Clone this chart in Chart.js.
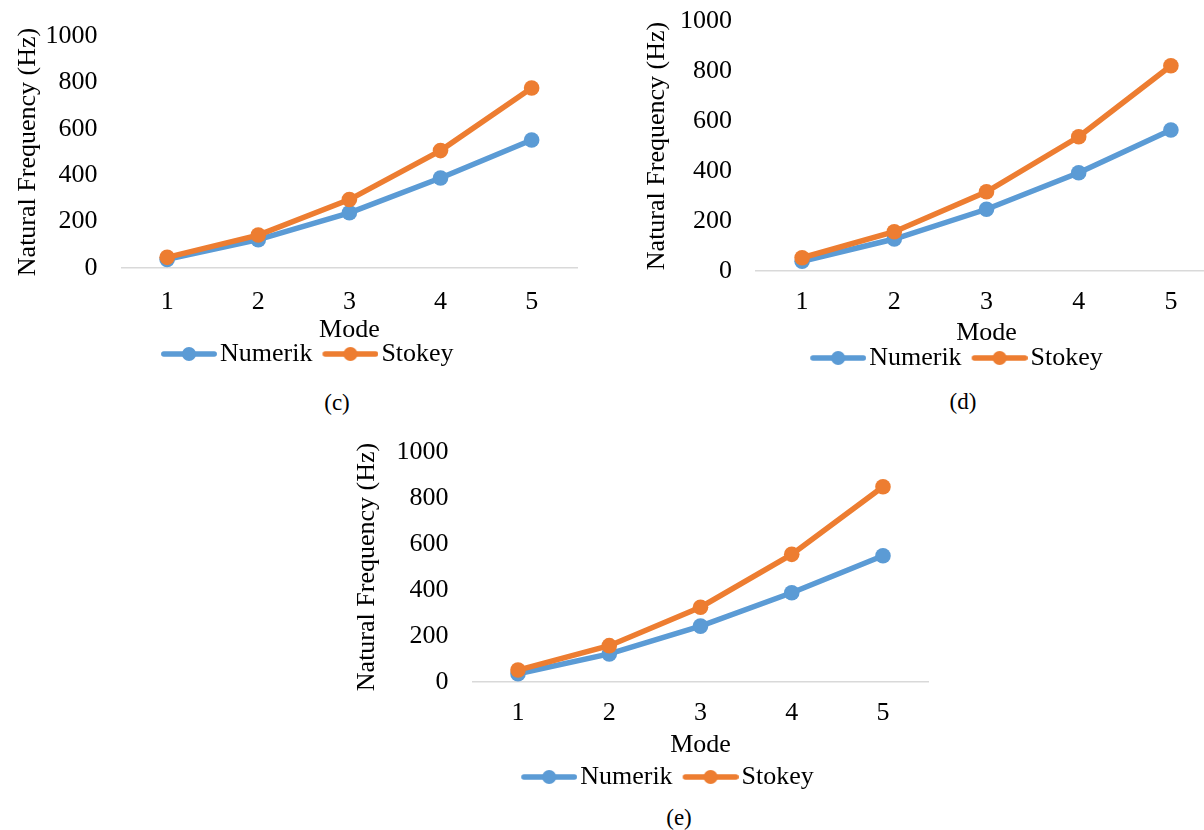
<!DOCTYPE html>
<html>
<head>
<meta charset="utf-8">
<script src="https://cdn.jsdelivr.net/npm/chart.js@4/dist/chart.umd.min.js"></script>
<style>
html,body{margin:0;padding:0;overflow:hidden;background:#fff;width:1204px;height:830px}
canvas{position:absolute}
.cap{position:absolute;width:100px;text-align:center;font-family:"Liberation Serif",serif;font-size:23px;line-height:26px;color:#000}
</style>
</head>
<body>
<canvas id="chartC"></canvas>
<canvas id="chartD"></canvas>
<canvas id="chartE"></canvas>
<div class="cap" id="capC"></div>
<div class="cap" id="capD"></div>
<div class="cap" id="capE"></div>
<script>
// data
const modes=["1","2","3","4","5"];
const seriesNames=["Numerik","Stokey"];
const numerikC=[37,122,238,388,552];
const stokeyC=[46,142,295,506,776];
const numerikD=[39,128,247,393,564];
const stokeyD=[53,157,317,537,821];
const numerikE=[36,122,243,388,549];
const stokeyE=[52,158,325,555,849];
const yMin=0,yMax=1000,yStep=200;
const xTitle="Mode",yTitle="Natural Frequency (Hz)";
const captions=["(c)","(d)","(e)"];

const BLUE="#5B9BD5",ORANGE="#ED7D31",FONT="Liberation Serif";
Chart.defaults.font.family=FONT;
Chart.defaults.color="#000";

function legendImg(color){
const c=document.createElement("canvas");c.width=66;c.height=20;
const g=c.getContext("2d");
g.strokeStyle=color;g.lineWidth=5.5;g.lineCap="round";
g.beginPath();g.moveTo(12.8,10);g.lineTo(63.2,10);g.stroke();
g.fillStyle=color;g.beginPath();g.arc(38,10,7,0,Math.PI*2);g.fill();
return c;
}
const imgs=[legendImg(BLUE),legendImg(ORANGE)];

// box: canvas place and the paddings used to line the plot up
function make(id,num,sto,box){
const cv=document.getElementById(id);
cv.width=box.w;cv.height=box.h;
cv.style.left=box.x+"px";cv.style.top=box.y+"px";
new Chart(cv,{
type:"line",
data:{labels:modes,datasets:[
{label:seriesNames[0],data:num,borderColor:BLUE,backgroundColor:BLUE,borderWidth:5.5,pointRadius:7.8,pointHoverRadius:7.8,pointBorderWidth:0,pointBackgroundColor:BLUE,tension:0,order:2},
{label:seriesNames[1],data:sto,borderColor:ORANGE,backgroundColor:ORANGE,borderWidth:5.5,pointRadius:7.8,pointHoverRadius:7.8,pointBorderWidth:0,pointBackgroundColor:ORANGE,tension:0,order:1}
]},
options:{
responsive:false,animation:false,
layout:{padding:{left:box.padL,top:box.padT,right:0,bottom:0}},
plugins:{
tooltip:{enabled:false},
legend:{position:"bottom",
labels:{usePointStyle:true,pointStyleWidth:46,padding:10,color:"#000",font:{size:26},
sort:(a,b)=>a.datasetIndex-b.datasetIndex,
generateLabels:ch=>Chart.defaults.plugins.legend.labels.generateLabels(ch).map(l=>{l.pointStyle=imgs[l.datasetIndex];return l;})}}
},
scales:{
x:{offset:true,
grid:{display:false,drawTicks:false},
border:{display:true,color:"#D9D9D9",width:1.5},
ticks:{padding:box.tickPad,font:{size:26},color:"#000"},
title:{display:true,text:xTitle,font:{size:26,lineHeight:1},color:"#000",padding:{top:box.tTop,bottom:box.tBot}}},
y:{min:yMin,max:yMax,
grid:{display:false,drawTicks:false},
border:{display:false},
ticks:{stepSize:yStep,padding:24,font:{size:26},color:"#000",callback:v=>String(v)},
title:{display:true,text:yTitle,font:{size:26},color:"#000",padding:{top:box.yTitlePad,bottom:0}},
afterFit:s=>{s.width=box.yW;s.paddingTop=0;s.paddingBottom=0;}},
yr:{type:"linear",position:"right",
grid:{display:false,drawTicks:false},border:{display:false},ticks:{display:false},
afterFit:s=>{s.width=box.extra;}}
}
}
});
}

make("chartC",numerikC,stokeyC,{x:0,y:0,w:585.4,h:377,padL:29.6,padT:36,yW:92,extra:0,yTitlePad:-17.2,tickPad:18.4,tTop:-19,tBot:-12});
make("chartD",numerikD,stokeyD,{x:620,y:0,w:617,h:381,padL:56,padT:21,yW:80,extra:20,yTitlePad:-34.6,tickPad:15.4,tTop:-13,tBot:-11});
make("chartE",numerikE,stokeyE,{x:330,y:420,w:613,h:380,padL:62,padT:32,yW:80.4,extra:14.4,yTitlePad:-40.6,tickPad:15.4,tTop:-12,tBot:-4});

function cap(id,text,cx,cy){const d=document.getElementById(id);d.textContent=text;d.style.left=(cx-50)+"px";d.style.top=(cy-13)+"px";}
cap("capC",captions[0],337,403);
cap("capD",captions[1],963,402);
cap("capE",captions[2],679,818);
</script>
</body>
</html>
